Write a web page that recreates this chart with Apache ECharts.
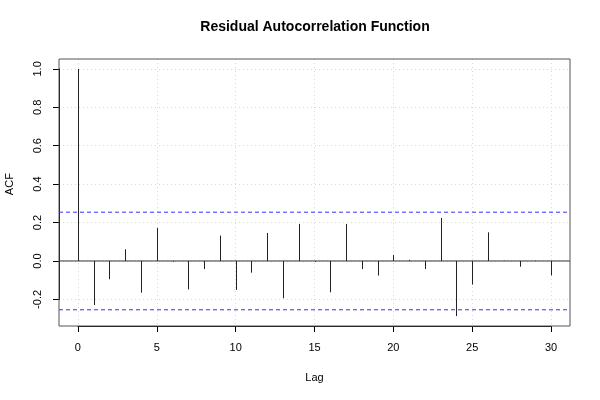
<!DOCTYPE html>
<html>
<head>
<meta charset="utf-8">
<script src="https://cdn.jsdelivr.net/npm/echarts@6/dist/echarts.min.js"></script>
<style>
html,body{margin:0;padding:0;background:#fff;}
#chart{width:600px;height:400px;}
</style>
</head>
<body>
<div id="chart"></div>
<script>
// ---- data ----
var lags = [0,1,2,3,4,5,6,7,8,9,10,11,12,13,14,15,16,17,18,19,20,21,22,23,24,25,26,27,28,29,30];
var acfValues = [1.000,-0.229,-0.095,0.061,-0.165,0.172,-0.004,-0.148,-0.042,0.132,-0.151,-0.061,0.146,-0.194,0.193,-0.005,-0.163,0.193,-0.042,-0.076,0.031,0.006,-0.042,0.224,-0.287,-0.123,0.149,0.002,-0.030,0.002,-0.075];
var confLimit = 0.254;
var xTicks = [0,5,10,15,20,25,30];
var yTicks = [-0.2,0.0,0.2,0.4,0.6,0.8,1.0];
var titleText = 'Residual Autocorrelation Function';
var xLabel = 'Lag';
var yLabel = 'ACF';

// ---- layout (R-style 4% axis extension) ----
var FONT = '"Liberation Sans", Arial, Helvetica, sans-serif';
var box = {left:59, right:570, top:59, bottom:326};
var xMin = xTicks[0], xMax = xTicks[xTicks.length-1];
var xPad = (xMax - xMin) * 0.04;
var xLo = xMin - xPad, xHi = xMax + xPad;
var dMin = Math.min.apply(null, acfValues.concat([-confLimit]));
var dMax = Math.max.apply(null, acfValues.concat([confLimit]));
var yPad = (dMax - dMin) * 0.04;
var yLo = dMin - yPad, yHi = dMax + yPad;
function px(v){ return box.left + (v - xLo) / (xHi - xLo) * (box.right - box.left); }
function py(v){ return box.top + (yHi - v) / (yHi - yLo) * (box.bottom - box.top); }

var data = lags.map(function(l, i){ return [l, acfValues[i]]; });
function hline(y){ return [[xLo, y], [xHi, y]]; }

var chart = echarts.init(document.getElementById('chart'), null, {renderer:'canvas'});
chart.setOption({
  animation: false,
  backgroundColor: '#fff',
  textStyle: {fontFamily: FONT},
  title: {
    text: titleText, left: 310, top: 15, textAlign: 'center',
    textStyle: {fontFamily: FONT, fontSize: 14, fontWeight: 'bold', color: '#000'}
  },
  grid: [
    {left: box.left, right: 600 - box.right, top: box.top, bottom: 400 - box.bottom, show: true, borderColor: '#555', borderWidth: 1, backgroundColor: 'transparent', z: 3, containLabel: false, outerBoundsMode: 'none'},
    {left: px(xMin), right: 600 - px(xMax), top: box.top, bottom: 400 - box.bottom, show: false, containLabel: false, outerBoundsMode: 'none'},
    {left: box.left, right: 600 - box.right, top: py(yTicks[yTicks.length-1]), bottom: 400 - py(yTicks[0]), show: false, containLabel: false, outerBoundsMode: 'none'}
  ],
  xAxis: [
    {gridIndex: 0, type: 'value', min: xLo, max: xHi, show: false},
    {gridIndex: 1, type: 'value', min: xMin, max: xMax, interval: 5, position: 'bottom',
     axisLine: {show: true, onZero: false, lineStyle: {color: '#000', width: 1}},
     axisTick: {show: true, inside: false, length: 6, lineStyle: {color: '#000'}},
     axisLabel: {show: true, margin: 16, fontSize: 11, color: '#000', fontFamily: FONT},
     splitLine: {show: true, lineStyle: {color: '#d9d9d9', type: [1,3], width: 1}},
     name: xLabel, nameLocation: 'middle', nameGap: 46,
     nameTextStyle: {fontSize: 11, color: '#000', fontFamily: FONT}},
    {gridIndex: 2, type: 'value', min: xLo, max: xHi, show: false}
  ],
  yAxis: [
    {gridIndex: 0, type: 'value', min: yLo, max: yHi, show: false},
    {gridIndex: 1, type: 'value', min: yLo, max: yHi, show: false},
    {gridIndex: 2, type: 'value', min: yTicks[0], max: yTicks[yTicks.length-1], interval: 0.2, position: 'left',
     axisLine: {show: true, onZero: false, lineStyle: {color: '#000', width: 1}},
     axisTick: {show: true, inside: false, length: 6, lineStyle: {color: '#000'}},
     axisLabel: {show: true, rotate: 90, margin: 16, fontSize: 11, color: '#000', fontFamily: FONT,
       formatter: function(v){ return v.toFixed(1); }},
     splitLine: {show: true, lineStyle: {color: '#d9d9d9', type: [1,3], width: 1}},
     name: yLabel, nameLocation: 'middle', nameGap: 44, nameRotate: 90,
     nameTextStyle: {fontSize: 11, color: '#000', fontFamily: FONT}}
  ],
  series: [
    {type: 'line', xAxisIndex: 0, yAxisIndex: 0, data: hline(confLimit), symbol: 'none', silent: true, z: 4,
     lineStyle: {color: '#3333ff', type: [4,3], width: 1}, itemStyle: {color: '#3333ff'}},
    {type: 'line', xAxisIndex: 0, yAxisIndex: 0, data: hline(-confLimit), symbol: 'none', silent: true, z: 4,
     lineStyle: {color: '#3333ff', type: [4,3], width: 1}, itemStyle: {color: '#3333ff'}},
    {type: 'line', xAxisIndex: 0, yAxisIndex: 0, data: hline(0), symbol: 'none', silent: true, z: 4,
     lineStyle: {color: '#333', type: 'solid', width: 1}, itemStyle: {color: '#333'}},
    {
    type: 'custom',
    xAxisIndex: 0, yAxisIndex: 0,
    clip: false,
    data: data,
    z: 5,
    renderItem: function(params, api){
      var p0 = api.coord([api.value(0), 0]);
      var p1 = api.coord([api.value(0), api.value(1)]);
      var x = Math.round(p0[0]) + 0.5;
      return {type: 'line', shape: {x1: x, y1: p0[1], x2: x, y2: p1[1]},
              style: {stroke: '#222', lineWidth: 1}};
    }
  }]
});
</script>
</body>
</html>
